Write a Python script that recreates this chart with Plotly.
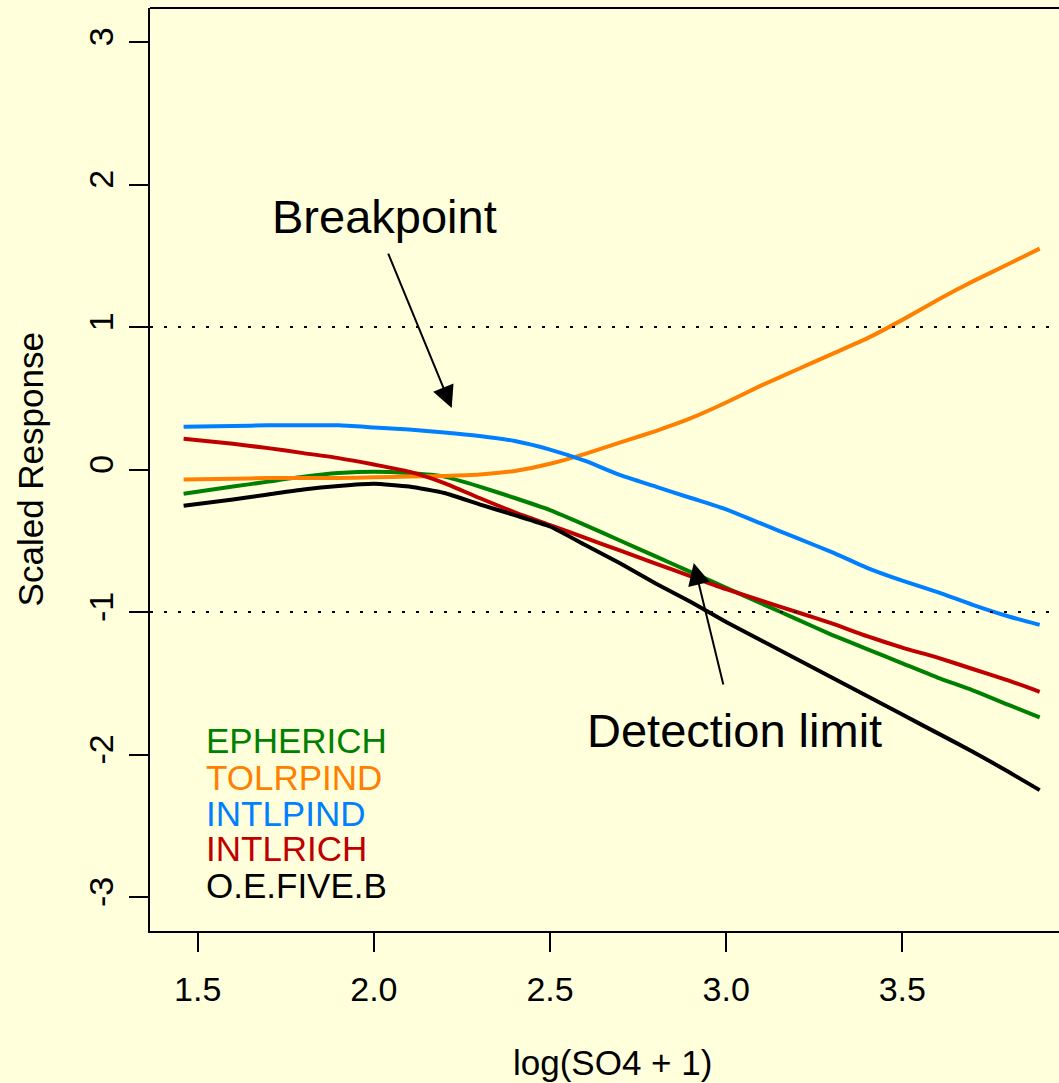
import plotly.graph_objects as go

# log(SO4 + 1) grid at which the scaled responses are evaluated
log_so4 = [1.46, 1.6, 1.7, 1.8, 1.9, 2.0, 2.1, 2.2, 2.3, 2.4, 2.5, 2.6, 2.7,
           2.8, 2.9, 3.0, 3.1, 3.2, 3.3, 3.4, 3.5, 3.6, 3.7, 3.8, 3.89]

epherich = [-0.17, -0.12, -0.085, -0.05, -0.025, -0.015, -0.025, -0.05, -0.12, -0.20,
            -0.285, -0.39, -0.50, -0.61, -0.72, -0.83, -0.94, -1.05, -1.16, -1.26,
            -1.36, -1.46, -1.55, -1.65, -1.74]
tolrpind = [-0.07, -0.065, -0.06, -0.06, -0.06, -0.055, -0.05, -0.045, -0.035, -0.01,
            0.04, 0.11, 0.19, 0.27, 0.36, 0.47, 0.59, 0.70, 0.81, 0.92,
            1.05, 1.19, 1.32, 1.44, 1.55]
intlpind = [0.30, 0.305, 0.31, 0.31, 0.31, 0.295, 0.28, 0.26, 0.235, 0.20,
            0.14, 0.06, -0.04, -0.12, -0.20, -0.28, -0.38, -0.48, -0.58, -0.69,
            -0.78, -0.86, -0.95, -1.03, -1.09]
intlrich = [0.215, 0.18, 0.15, 0.115, 0.08, 0.035, -0.015, -0.095, -0.20, -0.30,
            -0.39, -0.48, -0.57, -0.66, -0.75, -0.84, -0.92, -1.0, -1.08, -1.17,
            -1.25, -1.32, -1.40, -1.48, -1.56]
oefiveb = [-0.255, -0.21, -0.175, -0.14, -0.115, -0.10, -0.12, -0.165, -0.245, -0.32,
           -0.40, -0.53, -0.66, -0.80, -0.93, -1.07, -1.20, -1.33, -1.46, -1.59,
           -1.72, -1.85, -1.98, -2.12, -2.25]

series_names = ["EPHERICH", "TOLRPIND", "INTLPIND", "INTLRICH", "O.E.FIVE.B"]
series_values = [epherich, tolrpind, intlpind, intlrich, oefiveb]
series_colors = ["#008000", "#FF8000", "#0080FF", "#C00000", "#000000"]

x_ticks = [1.5, 2.0, 2.5, 3.0, 3.5]
x_tick_labels = ["1.5", "2.0", "2.5", "3.0", "3.5"]
y_ticks = [-3, -2, -1, 0, 1, 2, 3]
y_tick_labels = ["-3", "-2", "-1", "0", "1", "2", "3"]
thresholds = [1, -1]

FONT = "Liberation Sans, Arial, Helvetica, sans-serif"
BG = "#FFFFDC"

fig = go.Figure()
for name, vals, col in zip(series_names, series_values, series_colors):
    fig.add_trace(go.Scatter(x=log_so4, y=vals, mode="lines", name=name,
                             line=dict(color=col, width=4, shape="spline", smoothing=0.5),
                             showlegend=False))

# dotted reference lines at +/- 1
for t in thresholds:
    fig.add_shape(type="line", xref="paper", x0=0, x1=1, yref="y", y0=t, y1=t,
                  line=dict(color="black", width=2, dash="3px,11px"))

# top frame edge
fig.add_shape(type="line", xref="paper", yref="paper", x0=0, x1=1, y0=1, y1=1,
              line=dict(color="black", width=2))

# colored text key in the lower left
key_y = [-1.905, -2.158, -2.411, -2.663, -2.916]
for name, col, yy in zip(series_names, series_colors, key_y):
    fig.add_annotation(x=1.517, y=yy, xref="x", yref="y", text=name, showarrow=False,
                       xanchor="left", yanchor="middle",
                       font=dict(family=FONT, size=35, color=col))

# callouts
fig.add_annotation(x=2.031, y=1.773, xref="x", yref="y", text="Breakpoint", showarrow=False,
                   font=dict(family=FONT, size=47, color="black"))
fig.add_annotation(x=2.221, y=0.432, ax=2.039, ay=1.526, xref="x", yref="y",
                   axref="x", ayref="y", text="", showarrow=True,
                   arrowhead=2, arrowsize=2.2, arrowwidth=2, arrowcolor="black")
fig.add_annotation(x=3.024, y=-1.834, xref="x", yref="y", text="Detection limit", showarrow=False,
                   font=dict(family=FONT, size=47, color="black"))
fig.add_annotation(x=2.908, y=-0.656, ax=2.993, ay=-1.519, xref="x", yref="y",
                   axref="x", ayref="y", text="", showarrow=True,
                   arrowhead=2, arrowsize=2.2, arrowwidth=2, arrowcolor="black")

# axis titles
fig.add_annotation(x=2.676, y=-0.143, xref="x", yref="paper", text="log(SO4 + 1)",
                   showarrow=False, yanchor="middle",
                   font=dict(family=FONT, size=35, color="black"))
fig.add_annotation(x=-0.131, y=0.5, xref="paper", yref="y domain", text="Scaled Response",
                   showarrow=False, textangle=-90, xanchor="center",
                   font=dict(family=FONT, size=35, color="black"))

fig.update_xaxes(range=[1.3646, 3.9448], showgrid=False, zeroline=False,
                 showline=True, linecolor="black", linewidth=2, mirror=False,
                 ticks="outside", ticklen=19, tickwidth=2, tickcolor="black",
                 tickvals=x_ticks, ticktext=x_tick_labels, ticklabelstandoff=8,
                 tickfont=dict(family=FONT, size=34, color="black"))
fig.update_yaxes(range=[-3.2386, 3.2386], showgrid=False, zeroline=False,
                 showline=True, linecolor="black", linewidth=2, mirror=False,
                 ticks="outside", ticklen=19, tickwidth=2, tickcolor="black",
                 tickvals=y_ticks, ticktext=y_tick_labels, tickangle=-90,
                 ticklabelstandoff=2,
                 tickfont=dict(family=FONT, size=34, color="black"))

fig.update_layout(width=1059, height=1083,
                  margin=dict(l=150, r=0, t=8, b=152, pad=0),
                  paper_bgcolor=BG, plot_bgcolor=BG, showlegend=False)

fig.write_html("out.html")
